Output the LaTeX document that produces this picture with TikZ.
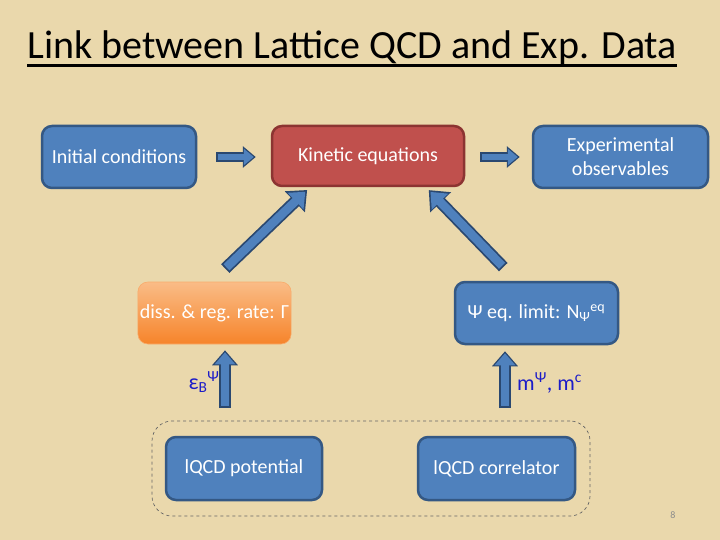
\documentclass[tikz,border=0pt]{standalone}
\usepackage{fontspec}
\setmainfont{Carlito}
\usetikzlibrary{arrows.meta,calc,fit}
\definecolor{bg}{RGB}{234,216,172}
\definecolor{bfill}{RGB}{79,129,189}
\definecolor{bedge}{RGB}{52,88,132}
\definecolor{rfill}{RGB}{192,80,77}
\definecolor{redge}{RGB}{140,52,50}
\definecolor{otop}{RGB}{250,188,135}
\definecolor{obot}{RGB}{246,132,42}
\definecolor{aedge}{RGB}{42,72,112}
\definecolor{lbl}{RGB}{28,28,200}
\tikzset{
  boxbase/.style={rounded corners=10pt, line width=2.5pt, text=white, align=center,
    font=\fontsize{20}{24}\selectfont, inner sep=2pt},
  bluebox/.style={boxbase, fill=bfill, draw=bedge},
  redbox/.style={boxbase, fill=rfill, draw=redge},
  orangebox/.style={boxbase, top color=otop, bottom color=obot, draw=otop!70!obot, line width=0.6pt},
  harrow/.style={preaction={draw=aedge, line width=10pt, shorten >=0pt, shorten <=0pt,
      -{Triangle[length=13pt,width=21pt]}},
    draw=bfill, line width=6.5pt, shorten >=2pt, shorten <=1.5pt, -{Triangle[length=10pt,width=16pt]}},
  darrow/.style={preaction={draw=aedge, line width=12pt, shorten >=0pt, shorten <=0pt,
      -{Triangle[length=17pt,width=28pt]}},
    draw=bfill, line width=8.5pt, shorten >=2.5pt, shorten <=1.8pt, -{Triangle[length=13.5pt,width=22pt]}},
  varrow/.style={preaction={draw=aedge, line width=12pt, shorten >=0pt, shorten <=0pt,
      -{Triangle[length=15pt,width=25pt]}},
    draw=bfill, line width=8.5pt, shorten >=2pt, shorten <=1.8pt, -{Triangle[length=12pt,width=20pt]}},
  lbltext/.style={text=lbl, font=\fontsize{22}{26}\selectfont, inner sep=0pt},
}
\begin{document}
\begin{tikzpicture}[x=1pt,y=-1pt]
\useasboundingbox (0,0) rectangle (720,540);
\fill[bg] (0,0) rectangle (720,540);

% title
\node[inner sep=0pt, anchor=base west, font=\fontsize{40}{46}\selectfont] (title) at (27,59) {Link between Lattice QCD and Exp. Data};
\draw[line width=2.5pt] ([yshift=-6.5pt]title.base west) -- ([yshift=-6.5pt]title.base east);

% boxes
\node[bluebox, minimum width=154pt, minimum height=62pt] (init) at (119,157) {Initial conditions};
\node[redbox, minimum width=192pt, minimum height=60pt] (kin) at (368,156) {Kinetic equations};
\node[bluebox, minimum width=175pt, minimum height=62pt] (exp) at (620.5,157) {Experimental\\observables};
\node[orangebox, minimum width=153pt, minimum height=62pt] (diss) at (214.5,313) {diss. \& reg. rate: Γ};
\node[bluebox, minimum width=163pt, minimum height=62pt] (psi) at (536.5,313) {Ψ eq. limit: N\textsubscript{Ψ}\textsuperscript{eq}};
\node[bluebox, minimum width=156pt, minimum height=63pt] (pot) at (244,468.5) {lQCD potential};
\node[bluebox, minimum width=157pt, minimum height=63pt] (cor) at (496.5,468.5) {lQCD correlator};
\node[draw=black!60, dashed, line width=0.7pt, rounded corners=20pt, inner sep=0pt,
  fit={(152,421) (590,516)}] (grp) {};

% horizontal arrows
\draw[harrow] ([xshift=19pt]init.east) -- ([xshift=-15pt]kin.west |- init.east);
\draw[harrow] ([xshift=15pt]kin.east |- exp.west) -- ([xshift=-12pt]exp.west);

% diagonal arrows
\coordinate (d1a) at ([xshift=-3pt]diss.north);
\coordinate (d1b) at ([xshift=-58pt]kin.south);
\draw[darrow] ($(d1a)!19pt!(d1b)$) -- ($(d1b)!4pt!(d1a)$);
\coordinate (d2a) at ([xshift=-20pt]psi.north);
\coordinate (d2b) at ([xshift=58pt]kin.south);
\draw[darrow] ($(d2a)!19pt!(d2b)$) -- ($(d2b)!4pt!(d2a)$);

% vertical arrows
\coordinate (ebtail) at (225,408);
\coordinate (mtail) at (505,408);
\draw[varrow] (ebtail) -- ([xshift=10.5pt,yshift=-6pt]diss.south);
\draw[varrow] (mtail) -- ([xshift=-31.5pt,yshift=-6pt]psi.south);

% labels
\node[lbltext] (eps) at (204,382) {ε\textsubscript{B}\textsuperscript{Ψ}};
\node[lbltext, anchor=west] (mlab) at (517,383) {m\textsuperscript{Ψ}, m\textsuperscript{c}};

% page number
\node[text=black!45, font=\fontsize{10}{12}\selectfont, inner sep=0pt] (pg) at (673,515) {8};
\end{tikzpicture}
\end{document}
